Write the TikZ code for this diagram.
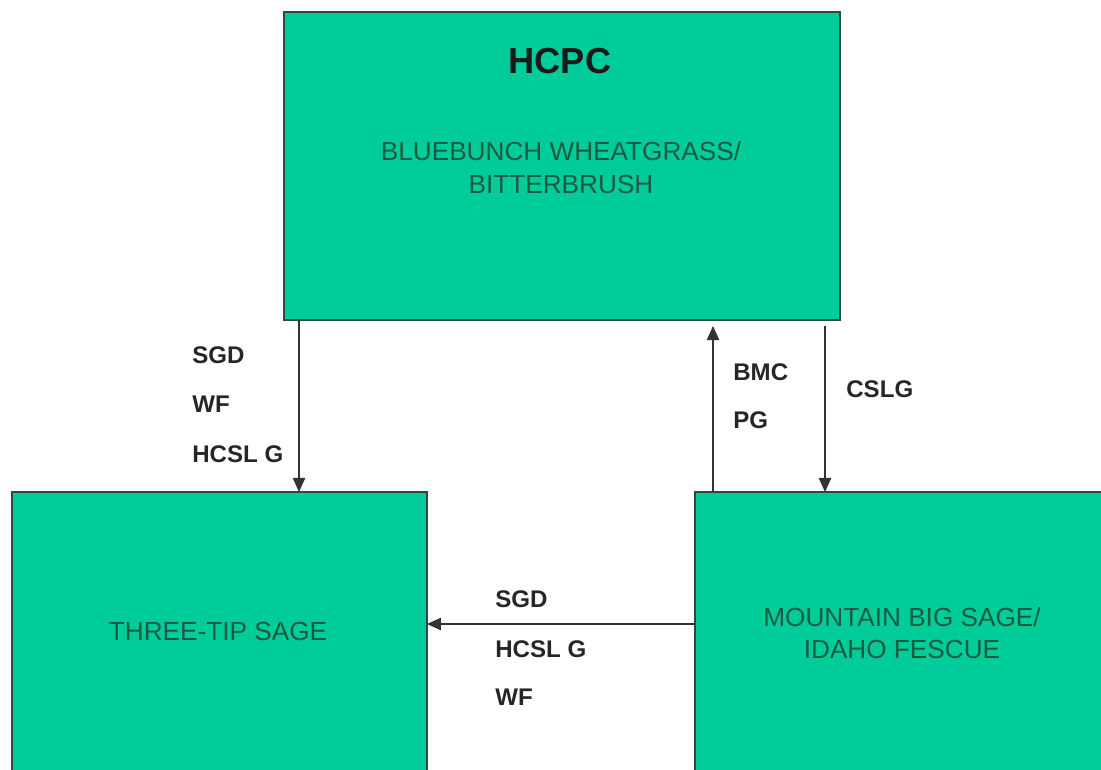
\documentclass[tikz,border=0pt]{standalone}
\usepackage{fontspec}
\setmainfont{Liberation Sans}
\usetikzlibrary{arrows.meta}
\definecolor{boxfill}{HTML}{00CC99}
\definecolor{boxline}{HTML}{2E4A40}
\definecolor{boxtext}{HTML}{1C5A44}
\tikzset{
  box/.style={draw=boxline, line width=1.1pt, fill=boxfill, anchor=north west, inner sep=0pt, outer sep=0pt},
  boxtxt/.style={text=boxtext, font=\fontsize{14.9}{16}\selectfont, anchor=base, inner sep=0pt},
  lbl/.style={text=black!85, font=\bfseries\fontsize{13.7}{15}\selectfont, anchor=base west, inner sep=0pt},
  arr/.style={draw=black!80, line width=0.75pt, -{Triangle[length=8pt,width=7pt]}}
}
\begin{document}
\begin{tikzpicture}[x=0.02cm, y=-0.02cm]
\useasboundingbox (0,0) rectangle (1101,769);
\clip (0,0) rectangle (1101,769);
\fill[white] (0,0) rectangle (1101,769);
% boxes
\node[box, minimum width=11.12cm, minimum height=6.16cm] (top) at (284,12) {};
\node[box, minimum width=8.3cm, minimum height=6.0cm] (left) at (12,492) {};
\node[box, minimum width=8.3cm, minimum height=6.0cm] (right) at (695,492) {};
% box texts
\node[boxtxt, font=\bfseries\fontsize{20.6}{22}\selectfont, text=black!90] (hcpc) at (560,73) {HCPC};
\node[boxtxt] (t1) at (561,160) {BLUEBUNCH WHEATGRASS/};
\node[boxtxt] (t2) at (561,193) {BITTERBRUSH};
\node[boxtxt] (t3) at (218,640) {THREE-TIP SAGE};
\node[boxtxt] (t4) at (902,626) {MOUNTAIN BIG SAGE/};
\node[boxtxt] (t5) at (902,658) {IDAHO FESCUE};
% arrow anchor coordinates
\coordinate (a1) at (299,0);
\coordinate (a2) at (713,0);
\coordinate (a3) at (825,0);
\coordinate (a4) at (0,624);
\coordinate (up2) at (713,326);
\coordinate (dn3) at (825,326);
% connectors
\draw[arr] (top.south -| a1) -- (left.north -| a1);
\draw[arr] (right.north -| a2) -- (up2);
\draw[arr] (dn3) -- (right.north -| a3);
\draw[arr] (right.west |- a4) -- (left.east |- a4);
% labels
\node[lbl] (l1) at (192,363) {SGD};
\node[lbl] (l2) at (192,412) {WF};
\node[lbl] (l3) at (192,462) {HCSL G};
\node[lbl] (l4) at (733,380) {BMC};
\node[lbl] (l5) at (733,428) {PG};
\node[lbl] (l6) at (846,397) {CSLG};
\node[lbl] (l7) at (495,607) {SGD};
\node[lbl] (l8) at (495,657) {HCSL G};
\node[lbl] (l9) at (495,705) {WF};
\end{tikzpicture}
\end{document}
